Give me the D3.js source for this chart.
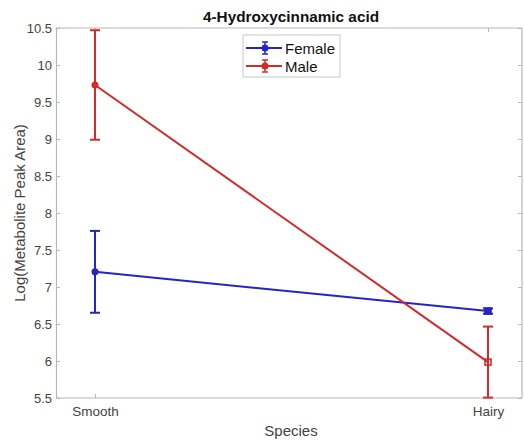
<!DOCTYPE html>
<html>
<head>
<meta charset="utf-8">
<script src="https://cdn.jsdelivr.net/npm/d3@7"></script>
<style>
  html, body { margin: 0; padding: 0; background: #fff; }
  svg { display: block; font-family: "Liberation Sans", Arial, sans-serif; }
</style>
</head>
<body>
<svg id="chart" width="524" height="441"></svg>
<script>
// Species groups on the x axis
const categories = ["Smooth", "Hairy"];
// Mean log peak area per group, with error half-widths
const femaleMeans = [7.205, 6.675];
const femaleErrors = [0.553, 0.035];
const maleMeans = [9.73, 5.985];
const maleErrors = [0.74, 0.48];
const yTicks = [5.5, 6, 6.5, 7, 7.5, 8, 8.5, 9, 9.5, 10, 10.5];
const seriesNames = ["Female", "Male"];
const seriesColors = ["#2424c8", "#d42a2a"];

const svg = d3.select("#chart");
const margin = { left: 56, right: 2, top: 28, bottom: 43 };
const W = 524, H = 441;

const x = d3.scalePoint().domain(categories).range([95, 488]);
const y = d3.scaleLinear().domain([5.5, 10.5]).range([H - margin.bottom, margin.top]);

const axisColor = "#b8b8b8";
const textColor = "#444";

// Box (top and right edges)
svg.append("line").attr("x1", margin.left).attr("x2", W - margin.right)
  .attr("y1", y(10.5)).attr("y2", y(10.5)).attr("stroke", axisColor).attr("stroke-width", 1.2);
svg.append("line").attr("x1", W - margin.right).attr("x2", W - margin.right)
  .attr("y1", y(10.5)).attr("y2", y(5.5)).attr("stroke", axisColor).attr("stroke-width", 1.2);

// Left axis, ticks pointing inward
const yAxis = svg.append("g").attr("transform", `translate(${margin.left},0)`)
  .call(d3.axisLeft(y).tickValues(yTicks).tickSize(-4).tickPadding(4).tickFormat(d3.format("")));
yAxis.select(".domain").attr("stroke", axisColor).attr("stroke-width", 1.2);
yAxis.selectAll(".tick line").attr("stroke", axisColor);
yAxis.selectAll(".tick text").attr("fill", textColor).attr("font-size", 13);

// Right-side inward ticks
svg.append("g").attr("transform", `translate(${W - margin.right},0)`)
  .call(d3.axisRight(y).tickValues(yTicks).tickSize(-4).tickFormat(""))
  .call(g => g.select(".domain").remove())
  .selectAll(".tick line").attr("stroke", axisColor);

// Bottom axis, ticks pointing inward
const xAxis = svg.append("g").attr("transform", `translate(0,${y(5.5)})`)
  .call(d3.axisBottom(x).tickSize(-4).tickPadding(8));
xAxis.select(".domain").attr("d", `M${margin.left},0H${W - margin.right}`)
  .attr("stroke", axisColor).attr("stroke-width", 1.2);
xAxis.selectAll(".tick line").attr("stroke", axisColor);
xAxis.selectAll(".tick text").attr("fill", textColor).attr("font-size", 13.5);

// Top inward ticks
svg.append("g").attr("transform", `translate(0,${y(10.5)})`)
  .call(d3.axisTop(x).tickSize(-4).tickFormat(""))
  .call(g => g.select(".domain").remove())
  .selectAll(".tick line").attr("stroke", axisColor);

// Title and axis labels
svg.append("text").attr("x", 291).attr("y", 22).attr("text-anchor", "middle")
  .attr("font-size", 15.3).attr("font-weight", "bold").attr("fill", "#111")
  .text("4-Hydroxycinnamic acid");
svg.append("text").attr("x", 291).attr("y", 436).attr("text-anchor", "middle")
  .attr("font-size", 15).attr("fill", textColor).text("Species");
svg.append("text").attr("transform", `translate(25,${(y(10.5) + y(5.5)) / 2}) rotate(-90)`)
  .attr("text-anchor", "middle").attr("font-size", 15).attr("fill", textColor)
  .text("Log(Metabolite Peak Area)");

// Series with error bars
const series = [
  { name: seriesNames[0], color: seriesColors[0], means: femaleMeans, errs: femaleErrors },
  { name: seriesNames[1], color: seriesColors[1], means: maleMeans, errs: maleErrors }
];
const line = d3.line().x((d, i) => x(categories[i])).y(d => y(d));
const cap = 5;

series.forEach(s => {
  const g = svg.append("g");
  g.append("path").datum(s.means).attr("d", line)
    .attr("fill", "none").attr("stroke", s.color).attr("stroke-width", 2);
  s.means.forEach((m, i) => {
    const cx = x(categories[i]);
    const lo = m - s.errs[i], hi = m + s.errs[i];
    g.append("line").attr("x1", cx).attr("x2", cx).attr("y1", y(lo)).attr("y2", y(hi))
      .attr("stroke", s.color).attr("stroke-width", 2);
    [lo, hi].forEach(v => g.append("line").attr("x1", cx - cap).attr("x2", cx + cap)
      .attr("y1", y(v)).attr("y2", y(v)).attr("stroke", s.color).attr("stroke-width", 2));
    if (i === 0) {
      g.append("circle").attr("cx", cx).attr("cy", y(m)).attr("r", 3.5).attr("fill", s.color);
    } else {
      g.append("rect").attr("x", cx - 3).attr("y", y(m) - 3).attr("width", 6).attr("height", 6)
        .attr("fill", s.name === "Female" ? s.color : "none")
        .attr("stroke", s.color).attr("stroke-width", 1.6);
    }
  });
});

// Legend
const lg = svg.append("g").attr("transform", "translate(243,35)");
lg.append("rect").attr("width", 97).attr("height", 42).attr("fill", "#fff")
  .attr("stroke", "#c8c8c8").attr("stroke-width", 1);
series.forEach((s, i) => {
  const ly = 13 + i * 18;
  lg.append("line").attr("x1", 3).attr("x2", 39).attr("y1", ly).attr("y2", ly)
    .attr("stroke", s.color).attr("stroke-width", 2);
  lg.append("line").attr("x1", 22).attr("x2", 22).attr("y1", ly - 6).attr("y2", ly + 6)
    .attr("stroke", s.color).attr("stroke-width", 1.5);
  [ly - 6, ly + 6].forEach(v => lg.append("line").attr("x1", 19).attr("x2", 25)
    .attr("y1", v).attr("y2", v).attr("stroke", s.color).attr("stroke-width", 1.5));
  lg.append("circle").attr("cx", 22).attr("cy", ly).attr("r", 3.5).attr("fill", s.color);
  lg.append("text").attr("x", 42).attr("y", ly + 5.5).attr("font-size", 15).attr("fill", "#111")
    .text(s.name);
});
</script>
</body>
</html>
